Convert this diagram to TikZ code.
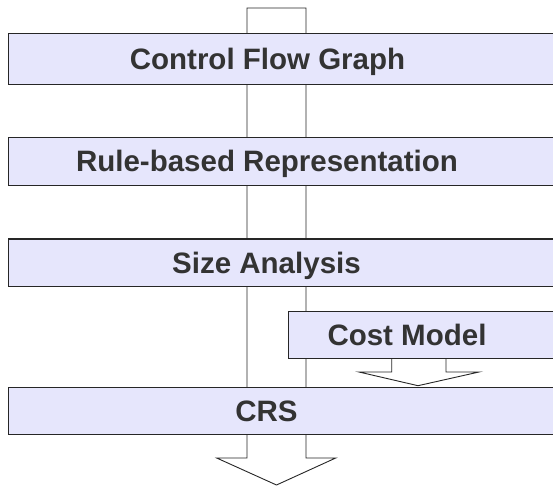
\documentclass[tikz,border=0pt]{standalone}
\usepackage{fontspec}
\setmainfont{Liberation Sans}
\definecolor{boxfill}{RGB}{230,230,252}
\definecolor{txt}{RGB}{51,51,51}
\begin{document}
\begin{tikzpicture}[x=1pt,y=-1pt,
  stage/.style={draw=black!85, line width=1.3pt, fill=boxfill, rectangle, anchor=north west, inner sep=0pt},
  lbl/.style={anchor=base, text=txt, font=\bfseries\fontsize{29.5}{30}\selectfont, inner sep=0pt},
  blockarrow/.style={draw=black!85, line width=0.9pt, fill=white, line join=miter}]
\useasboundingbox (0,0) rectangle (553,486);
\clip (0,0) rectangle (553,486);
% big flow arrow behind the stages
\coordinate (t1) at (247,8);
\coordinate (t2) at (306,8);
\coordinate (tip) at (276.5,485);
\draw[blockarrow] (t1) -- (t2) -- (306,458) -- (335.7,458) -- (tip) -- (216.7,458) -- (247,458) -- cycle;
% stages
\node[stage, minimum width=600pt, minimum height=51pt] (cfg) at (8,33) {};
\node[lbl] (cfgt) at (267.5,69.5) {Control Flow Graph};
\node[stage, minimum width=600pt, minimum height=48pt] (rbr) at (8,137) {};
\node[lbl] (rbrt) at (267,172) {Rule-based Representation};
\node[stage, minimum width=600pt, minimum height=47.5pt] (sa) at (8,238.3) {};
\node[lbl] (sat) at (266.5,273) {Size Analysis};
% cost model arrow into CRS
\coordinate (c1) at (391.7,350);
\coordinate (c2) at (446,350);
\coordinate (ctip) at (418,385.7);
\draw[blockarrow] (c1) -- (391.7,372) -- (359,372) -- (ctip) -- (479,372) -- (446,372) -- (c2);
\node[stage, minimum width=300pt, minimum height=47pt] (cm) at (288,310.7) {};
\node[lbl] (cmt) at (407,345.5) {Cost Model};
\node[stage, minimum width=600pt, minimum height=47pt] (crs) at (8,386.7) {};
\node[lbl] (crst) at (266.5,421) {CRS};
\end{tikzpicture}
\end{document}
